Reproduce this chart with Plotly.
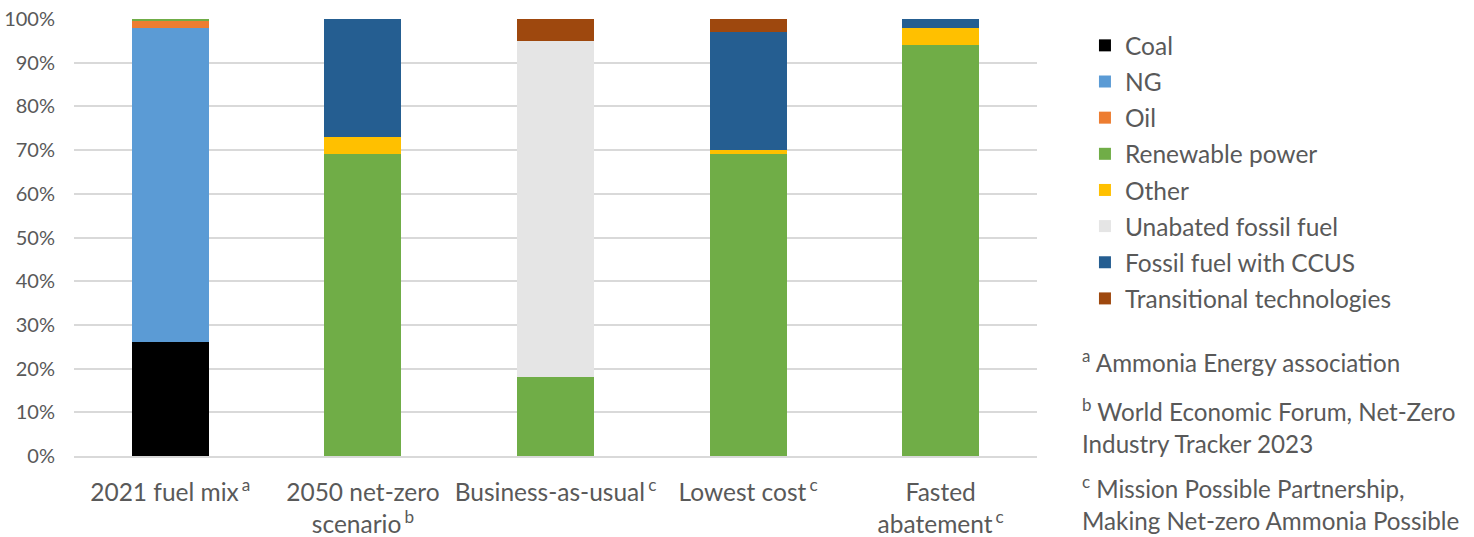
import plotly.graph_objects as go

categories = ["2021 fuel mix\u2009<sup>a</sup>", "2050 net-zero<br>scenario\u2009<sup>b</sup>",
              "Business-as-usual\u2009<sup>c</sup>", "Lowest cost\u2009<sup>c</sup>",
              "Fasted<br>abatement\u2009<sup>c</sup>"]

coal = [26, 0, 0, 0, 0]
ng = [72, 0, 0, 0, 0]
oil = [1.5, 0, 0, 0, 0]
renewable = [0.5, 69, 18, 69, 94]
other = [0, 4, 0, 1, 4]
unabated = [0, 0, 77, 0, 0]
ccus = [0, 27, 0, 27, 2]
transitional = [0, 0, 5, 3, 0]

series_names = ["Coal", "NG", "Oil", "Renewable power", "Other",
                "Unabated fossil fuel", "Fossil fuel with CCUS", "Transitional technologies"]
series_values = [coal, ng, oil, renewable, other, unabated, ccus, transitional]
series_colors = ["#000000", "#5B9BD5", "#ED7D31", "#70AD47", "#FFC000",
                 "#E5E5E5", "#255E91", "#9E480E"]

notes = [
    ("<sup>a</sup> Ammonia Energy association", 0.217),
    ("<sup>b</sup> World Economic Forum, Net-Zero<br>Industry Tracker 2023", 0.069),
    ("<sup>c</sup> Mission Possible Partnership,<br>Making Net-zero Ammonia Possible", -0.108),
]

FONT = "Lato"
TXT = "#595959"

fig = go.Figure()
for name, vals, col in zip(series_names, series_values, series_colors):
    fig.add_trace(go.Bar(x=categories, y=vals, name=name, legendgroup=name,
                         marker=dict(color=col, line=dict(width=0))))

for text, y in notes:
    fig.add_annotation(text=text, xref="paper", yref="paper", x=1.0446, y=y,
                       xanchor="left", yanchor="middle", align="left", showarrow=False,
                       font=dict(family=FONT, size=24.2, color=TXT))

fig.update_layout(
    width=1474, height=537,
    margin=dict(l=74, r=437, t=19, b=81),
    barmode="stack", bargap=0.6,
    plot_bgcolor="white", paper_bgcolor="white",
    font=dict(family=FONT, color=TXT),
    legend=dict(x=1.0498, y=0.991, xanchor="left", yanchor="top",
                traceorder="grouped", tracegroupgap=1.3,
                font=dict(family=FONT, size=24.5, color=TXT)),
)
fig.update_yaxes(range=[0, 100], dtick=10, ticksuffix="%", showgrid=True,
                 gridcolor="#D9D9D9", gridwidth=1.5, zeroline=False, automargin=False,
                 tickfont=dict(family=FONT, size=20, color=TXT), ticklabelstandoff=18)
fig.update_xaxes(showline=True, linecolor="#D9D9D9", linewidth=1.5, automargin=False,
                 tickfont=dict(family=FONT, size=24.5, color=TXT), ticklabelstandoff=14)

fig.write_html("out.html")
